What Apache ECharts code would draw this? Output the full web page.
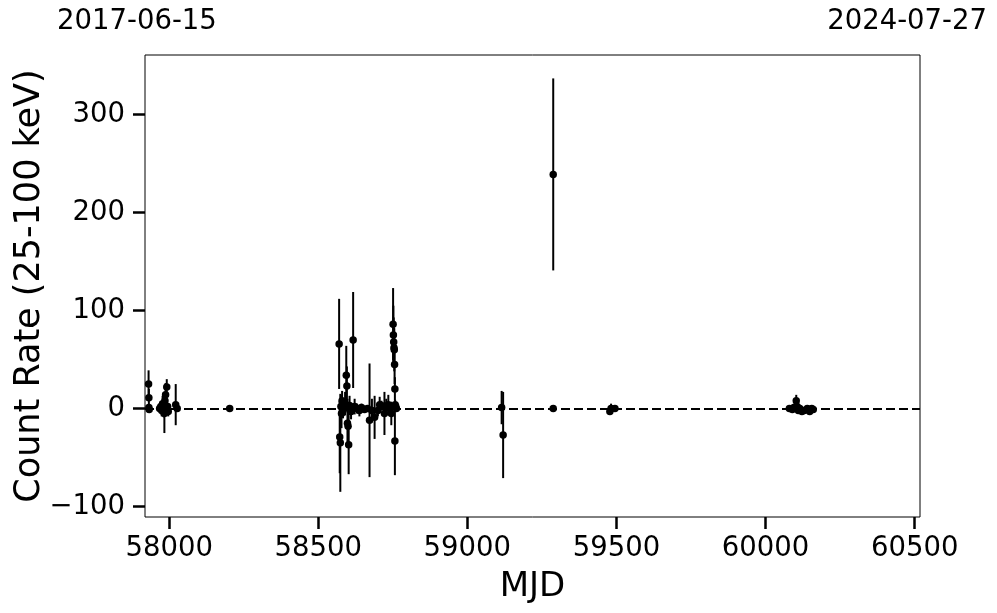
<!DOCTYPE html>
<html>
<head>
<meta charset="utf-8">
<script src="https://cdn.jsdelivr.net/npm/echarts@6/dist/echarts.min.js"></script>
<style>
html,body{margin:0;padding:0;background:#fff;}
#chart{width:997px;height:613px;}
</style>
</head>
<body>
<div id="chart"></div>
<script>
// Observation dates (MJD), count rates and 1-sigma errors
const mjd = [
  57931, 57932, 57932, 57933,
  57968, 57972, 57975, 57978, 57980, 57982, 57984, 57986, 57988, 57990, 57992, 57995, 57997,
  58022, 58027, 58203,
  58570, 58572, 58574, 58576, 58578, 58580, 58583, 58586, 58590, 58594, 58596, 58598, 58600,
  58602, 58605, 58610, 58617, 58622, 58630, 58638, 58645, 58655, 58665, 58672, 58680, 58689,
  58700, 58706, 58712, 58722, 58728, 58735, 58740, 58745, 58751, 58752, 58753, 58754, 58755,
  58756, 58757, 58757, 58758, 58760, 58762,
  59115, 59120, 59288, 59288, 59478, 59482, 59495,
  60080, 60090, 60095, 60103, 60106, 60110, 60115, 60122, 60130, 60140, 60148, 60155, 60160
];
const rate = [
  25, 11, 1, -1,
  0, 2, -2, 5, -3, 1, -5, 8, 14, -1, 22, 2, -3,
  4, 0, 0,
  66, -29, -35, 2, -5, 8, -2, 0, 5, 34, 23, -15, -18,
  -37, 3, -3, 70, 2, 0, -2, 1, -1, 0, -12, -2, -9,
  -2, 4, 3, -5, 2, 4, 0, -5, 86, 75, 68, 62, 60,
  45, 20, -33, 4, 2, 0,
  1, -27, 0, 239, -3, 0, 0,
  0, -1, 1, 8, 2, -2, 0, -3, -2, 0, -3, 0, -1
];
const err = [
  14, 9, 3, 2,
  3, 5, 6, 8, 4, 10, 20, 7, 12, 4, 8, 3, 5,
  21, 3, 1,
  46, 37, 50, 12, 15, 10, 8, 6, 12, 30, 20, 25, 20,
  30, 10, 8, 49, 8, 5, 6, 4, 3, 3, 58, 12, 22,
  6, 8, 5, 22, 8, 10, 6, 12, 37, 30, 25, 20, 22,
  20, 12, 35, 5, 4, 3,
  17, 44, 1, 98, 3, 5, 2,
  2, 3, 4, 6, 3, 3, 3, 2, 3, 2, 3, 2, 2
];
const xTicks = [58000, 58500, 59000, 59500, 60000, 60500];
const yTicks = [-100, 0, 100, 200, 300];
const dateLeft = '2017-06-15';
const dateRight = '2024-07-27';

const pts = mjd.map((m, i) => [m, rate[i]]);
const bars = mjd.map((m, i) => [m, rate[i] - err[i], rate[i] + err[i]]);

const FONT = 'DejaVu Sans';
const chart = echarts.init(document.getElementById('chart'), null, {renderer: 'canvas'});
chart.setOption({
  animation: false,
  backgroundColor: '#fff',
  grid: {left: 145, right: 77, top: 55, bottom: 96, show: true, borderColor: '#000', borderWidth: 1,
         containLabel: false, outerBoundsMode: 'none'},
  graphic: [
    {type: 'text', x: 57, y: 22, style: {text: dateLeft, font: '27.5px "DejaVu Sans"', fill: '#000', textVerticalAlign: 'middle', textAlign: 'left'}},
    {type: 'text', x: 987, y: 22, style: {text: dateRight, font: '27.5px "DejaVu Sans"', fill: '#000', textVerticalAlign: 'middle', textAlign: 'right'}}
  ],
  xAxis: {
    type: 'value', min: 57919, max: 60518,
    name: 'MJD', nameLocation: 'middle', nameGap: 53, nameMoveOverlap: false,
    nameTextStyle: {fontFamily: FONT, fontSize: 34, color: '#000'},
    axisLine: {show: false, onZero: false},
    splitLine: {show: false},
    axisTick: {show: true, inside: false, length: 12, lineStyle: {color: '#000', width: 2.5}, customValues: xTicks},
    axisLabel: {fontFamily: FONT, fontSize: 27.5, color: '#000', margin: 18, customValues: xTicks,
      formatter: v => String(v)}
  },
  yAxis: {
    type: 'value', min: -110.7, max: 360.9,
    name: 'Count Rate (25-100 keV)', nameLocation: 'middle', nameGap: 98, nameMoveOverlap: false,
    nameTextStyle: {fontFamily: FONT, fontSize: 35, color: '#000'},
    axisLine: {show: false, onZero: false},
    splitLine: {show: false},
    axisTick: {show: true, inside: false, length: 12, lineStyle: {color: '#000', width: 2.5}, customValues: yTicks},
    axisLabel: {fontFamily: FONT, fontSize: 27.5, color: '#000', margin: 20, customValues: yTicks,
      formatter: v => String(v).replace('-', '\u2212')}
  },
  series: [
    {
      type: 'custom',
      data: bars,
      clip: true,
      z: 3,
      encode: {x: 0, y: [1, 2]},
      renderItem: function (params, api) {
        const x = api.value(0);
        const lo = api.coord([x, api.value(1)]);
        const hi = api.coord([x, api.value(2)]);
        return {
          type: 'line',
          shape: {x1: lo[0], y1: lo[1], x2: hi[0], y2: hi[1]},
          style: {stroke: '#000', lineWidth: 2}
        };
      }
    },
    {
      type: 'scatter',
      data: pts,
      symbol: 'circle',
      symbolSize: 7.5,
      itemStyle: {color: '#000', opacity: 1},
      z: 4,
      markLine: {
        silent: true,
        symbol: 'none',
        label: {show: false},
        lineStyle: {color: '#000', type: [9, 4], width: 2},
        data: [{yAxis: 0}]
      }
    }
  ]
});
</script>
</body>
</html>
